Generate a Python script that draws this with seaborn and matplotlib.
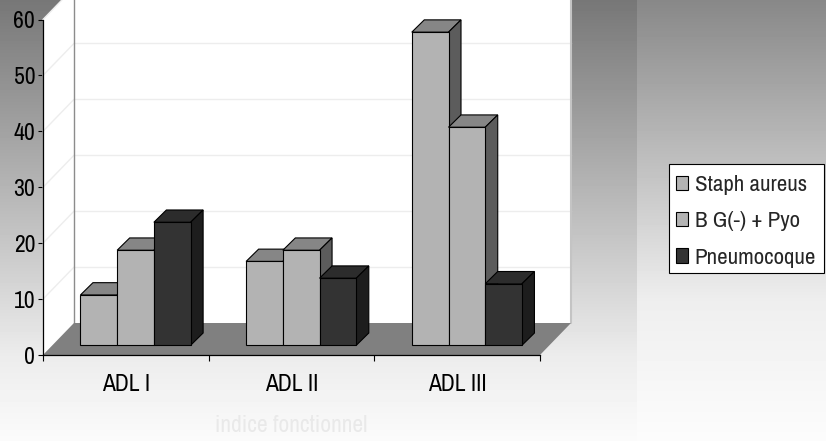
import numpy as np
import pandas as pd
import matplotlib
matplotlib.use("Agg")
import matplotlib.pyplot as plt
from matplotlib.patches import Polygon, Patch, Rectangle
from matplotlib.lines import Line2D
from matplotlib.transforms import Affine2D
from matplotlib import patheffects, font_manager
import seaborn as sns

categories = ["ADL I", "ADL II", "ADL III"]
series = ["Staph aureus", "B G(-) + Pyo", "Pneumocoque"]
staph = [9, 15, 56]
bgpyo = [17, 17, 39]
pneumo = [22, 12, 11]
y_ticks = [0, 10, 20, 30, 40, 50, 60]
x_title = "indice fonctionnel"

df = pd.DataFrame({
    "indice": categories * len(series),
    "germe": [s for s in series for _ in categories],
    "valeur": staph + bgpyo + pneumo,
})

sns.set_theme(style="white")

# prefer a narrow sans face; otherwise squeeze the regular one
available = {f.name for f in font_manager.fontManager.ttflist}
narrow_faces = ["Liberation Sans Narrow", "Arial Narrow", "Archivo Narrow",
                "PT Sans Narrow", "Roboto Condensed", "IBM Plex Sans Condensed"]
narrow = next((n for n in narrow_faces if n in available), None)
if narrow:
    plt.rcParams["font.family"] = [narrow, "Liberation Sans", "DejaVu Sans"]
    SX = 1.0
else:
    plt.rcParams["font.family"] = ["Liberation Sans", "DejaVu Sans"]
    SX = 0.83


class Squeeze(patheffects.AbstractPathEffect):
    """Narrow a text horizontally around a chosen anchor (0 left, 0.5 centre, 1 right)."""

    def __init__(self, sx=0.83, anchor=0.5):
        super().__init__()
        self.sx = sx
        self.anchor = anchor

    def draw_path(self, renderer, gc, tpath, affine, rgbFace=None):
        ext = tpath.get_extents()
        cx = ext.x0 + self.anchor * ext.width
        squeeze = Affine2D().translate(-cx, 0).scale(self.sx, 1).translate(cx, 0)
        renderer.draw_path(gc, tpath, squeeze + affine, rgbFace)


W, H = 826, 441
fig = plt.figure(figsize=(W / 100, H / 100), dpi=100)

# grey gradient backdrop: chart panel on the left, lighter legend panel on the right
rows = np.arange(H)
left_prof = np.interp(rows, [0, 355, 441], [119, 236, 251])
right_prof = np.interp(rows, [0, 300, 441], [136, 238, 252])
img = np.empty((H, W))
split = 637
img[:, :split] = left_prof[:, None]
img[:, split:] = right_prof[:, None]
bg = fig.add_axes([0, 0, 1, 1], zorder=0)
bg.imshow(img, cmap="gray", vmin=0, vmax=255, aspect="auto", interpolation="nearest")
bg.set_axis_off()

# front plane of the 3-D box
ax = fig.add_axes([43 / W, 1 - 355 / H, (540 - 43) / W, (355 - 19.5) / H], zorder=1)
ax.patch.set_visible(False)

face = {"Staph aureus": "#b3b3b3", "B G(-) + Pyo": "#b3b3b3", "Pneumocoque": "#333333"}
shade = {"light": ("#868686", "#5c5c5c"), "dark": ("#2c2c2c", "#1d1d1d")}

sns.barplot(data=df, x="indice", y="valeur", hue="germe", order=categories,
            hue_order=series, palette=face, width=0.665, errorbar=None,
            edgecolor="black", linewidth=0.8, legend=False, saturation=1, ax=ax)
bars = sorted(list(ax.patches), key=lambda p: p.get_x())

ax.set_xlim(-0.5, len(categories) - 0.5)
ax.set_ylim(0, 60)

px_x = ax.bbox.width / len(categories)
px_y = ax.bbox.height / 60.0

# depth of the floor / walls and of each bar, expressed in data units
fdx, fdy = 31 / px_x, 32 / px_y
bdx, bdy = 9.7 / px_x, 9.7 / px_y
ddx, ddy = 12.5 / px_x, 12.3 / px_y

x_lo, x_hi = -0.5, len(categories) - 0.5
top_val = 60

# walls
side_wall = Polygon([(x_lo, 0), (x_lo + fdx, fdy), (x_lo + fdx, top_val + fdy), (x_lo, top_val)],
                    closed=True, facecolor="white", edgecolor="none", zorder=0.5, clip_on=False)
back_wall = Polygon([(x_lo + fdx, fdy), (x_hi + fdx, fdy), (x_hi + fdx, top_val + fdy + 10),
                     (x_lo + fdx, top_val + fdy + 10)],
                    closed=True, facecolor="white", edgecolor="none", zorder=0.5, clip_on=False)
ax.add_patch(side_wall)
ax.add_patch(back_wall)
for k in y_ticks[1:]:
    ax.add_line(Line2D([x_lo + fdx, x_hi + fdx], [k + fdy, k + fdy], color="#ededed",
                       lw=1.0, zorder=0.6, clip_on=False))
    ax.add_line(Line2D([x_lo, x_lo + fdx], [k, k + fdy], color="#ededed",
                       lw=1.0, zorder=0.6, clip_on=False))
ax.add_line(Line2D([x_lo + fdx, x_lo + fdx], [fdy, top_val + fdy + 10], color="#8c8c8c",
                   lw=1.0, zorder=0.7, clip_on=False))
ax.add_line(Line2D([x_hi + fdx, x_hi + fdx], [fdy, top_val + fdy + 10], color="#c4c4c4",
                   lw=1.5, zorder=0.7, clip_on=False))

# floor
floor = Polygon([(x_lo, 0), (x_hi, 0), (x_hi + fdx, fdy), (x_lo + fdx, fdy)], closed=True,
                facecolor="#808080", edgecolor="none", zorder=0.8, clip_on=False)
ax.add_patch(floor)

# extrude every bar: front face from seaborn, plus top and side faces
for i, p in enumerate(bars):
    x0 = p.get_x() + bdx
    w = p.get_width()
    h = p.get_height()
    p.set_x(x0)
    p.set_y(bdy)
    x1 = x0 + w
    top = bdy + h
    lum = np.mean(p.get_facecolor()[:3])
    top_c, side_c = shade["light"] if lum > 0.5 else shade["dark"]
    z = 3 + i * 0.1
    p.set_zorder(z + 0.02)
    p.set_joinstyle("miter")
    ax.add_patch(Polygon([(x0, top), (x1, top), (x1 + ddx, top + ddy), (x0 + ddx, top + ddy)],
                         closed=True, facecolor=top_c, edgecolor="black", lw=0.8,
                         joinstyle="miter", zorder=z, clip_on=False))
    ax.add_patch(Polygon([(x1, bdy), (x1 + ddx, bdy + ddy), (x1 + ddx, top + ddy), (x1, top)],
                         closed=True, facecolor=side_c, edgecolor="black", lw=0.8,
                         joinstyle="miter", zorder=z, clip_on=False))

# axes, ticks and labels
for s in ("top", "right"):
    ax.spines[s].set_visible(False)
for s in ("left", "bottom"):
    ax.spines[s].set_color("black")
    ax.spines[s].set_linewidth(0.9)
    ax.spines[s].set_zorder(2.5)

ax.set_yticks(y_ticks)
ax.tick_params(axis="y", left=True, length=3.6, width=0.8, pad=2, labelsize=17,
               colors="black", direction="out")
ax.set_xticks(range(len(categories)))
ax.set_xticklabels(categories)
ax.tick_params(axis="x", which="major", bottom=True, length=0, pad=14, labelsize=17,
               colors="black")
ax.set_xticks([c - 0.5 for c in range(len(categories) + 1)], minor=True)
ax.tick_params(axis="x", which="minor", bottom=True, length=4.3, width=0.8,
               direction="out", color="black")

ax.set_ylabel("")
ax.set_xlabel(x_title, color="#e9e9e9", fontsize=17, labelpad=14)

if SX != 1.0:
    for lbl in ax.get_yticklabels():
        lbl.set_path_effects([Squeeze(SX, anchor=1.0)])
    for lbl in ax.get_xticklabels():
        lbl.set_path_effects([Squeeze(SX, anchor=0.5)])
    ax.xaxis.label.set_path_effects([Squeeze(SX, anchor=0.5)])

# legend: white box with black border on the right panel
fig.add_artist(Rectangle((669 / W, 1 - 273 / H), 155 / W, 109 / H, transform=fig.transFigure,
                         facecolor="white", edgecolor="black", lw=0.8, zorder=4))
handles = [Patch(facecolor=face[s], edgecolor="black", linewidth=0.8) for s in series]
leg = fig.legend(handles, series, loc="upper left", bbox_to_anchor=(676 / W, 1 - 175 / H),
                 bbox_transform=fig.transFigure, frameon=False, fontsize=16.5,
                 handlelength=0.52, handleheight=0.6, handletextpad=0.3,
                 labelspacing=0.71, borderpad=0.0, borderaxespad=0)
if SX != 1.0:
    for t in leg.get_texts():
        t.set_path_effects([Squeeze(SX, anchor=0.0)])
leg.set_zorder(5)

fig.savefig("out.png", dpi=100)
